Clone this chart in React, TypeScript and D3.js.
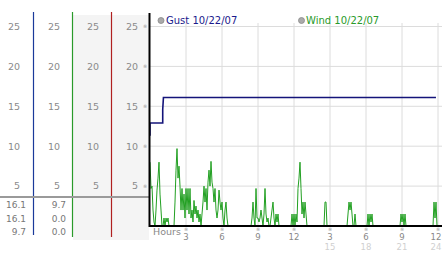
import React from "react";
import * as d3 from "d3";

const yTicks = [5, 10, 15, 20, 25];
const hourTicks = [3, 6, 9, 12, 15, 18, 21, 24];
const hourLabelsTop = ["3", "6", "9", "12", "3", "6", "9", "12"];
const hourLabelsBottom = ["", "", "", "", "15", "18", "21", "24"];

const gustHours = [0, 0, 1.06, 1.06, 1.12, 23.83];
const gustValues = [11.3, 12.9, 12.9, 14.6, 16.1, 16.1];

// wind speed, one reading every 5 minutes (12 per hour)
const windValues = [
  8, 4.7, 5, 2, 0.5, 0, 2, 4.5, 6, 8, 4, 2,
  0, 0, 1, 0, 1, 0.5, 1, 0, 0, 0, 0, 0,
  0, 3, 7, 9.7, 6, 7.5, 5, 2, 4.7, 2, 4, 1,
  4.7, 2, 4.7, 1.5, 4.7, 1, 2, 0.5, 3.2, 1.5, 2.5, 1,
  2, 0.5, 1.5, 0, 1.5, 3, 5, 3, 4.7, 2, 5.5, 7,
  5, 8.1, 5.5, 4.7, 3, 4.7, 2, 1, 2, 4.5, 3, 2,
  3, 1, 0, 2, 3, 1, 0, 0, 0, 0, 0, 0,
  0, 0, 0, 0, 0, 0, 0, 0, 0, 0, 0, 0,
  0, 0, 0, 0, 0, 0, 1, 3, 1, 0, 4.7, 1,
  1, 0.5, 1, 2, 1, 0, 1.5, 4.7, 1.5, 0.5, 1, 0,
  0, 1, 2, 3, 1, 0, 1.5, 0.5, 1.5, 0, 0, 0,
  0, 0, 0, 0, 0, 0, 0, 0, 0, 0, 1.5, 0,
  1.5, 0, 1.5, 0.5, 4.7, 6, 8, 4.7, 1.5, 3, 1, 3,
  1.5, 0, 0, 0, 0, 0, 0, 0, 0, 0, 0, 0,
  0, 0, 0, 0, 0, 0, 0, 3, 3, 0, 0, 0,
  0, 0, 0, 0, 0, 0, 0, 0, 0, 0, 0, 0,
  0, 0, 0, 0, 0, 0, 1.5, 3, 2, 3, 1.5, 0,
  0, 1.5, 0, 0, 0, 0, 0, 0, 0, 0, 0, 0,
  0, 0, 1.5, 0, 1.5, 0.5, 1.5, 0, 0, 0, 0, 0,
  0, 0, 0, 0, 0, 0, 0, 0, 0, 0, 0, 0,
  0, 0, 0, 0, 0, 0, 0, 0, 0, 0, 0, 1.5,
  0.5, 1.5, 0, 1.5, 0, 0, 0, 0, 0, 0, 0, 0,
  0, 0, 0, 0, 0, 0, 0, 0, 0, 0, 0, 0,
  0, 0, 0, 0, 0, 0, 0, 0, 3, 1, 3, 0,
  0,
];

const gustStats = ["16.1", "16.1", "9.7"];
const windStats = ["9.7", "0.0", "0.0"];

const FONT = "DejaVu Sans, Verdana, sans-serif";

export default function App() {
  const x = d3.scaleLinear().domain([0, 24]).range([150, 438]);
  const y = d3.scaleLinear().domain([0, 25]).range([226, 26.5]);

  const gustLine = d3
    .line<number>()
    .x((_, i) => x(gustHours[i]))
    .y((d) => y(d))(gustValues) as string;

  const windLine = d3
    .line<number>()
    .x((_, i) => x(i / 12))
    .y((d) => y(d))(windValues) as string;

  const panelRight = [20, 60, 99, 138];
  const panelLines = [
    { x: 33.5, color: "#1a3a9a", y2: 235 },
    { x: 72.5, color: "#2a9a2a", y2: 237 },
    { x: 111.5, color: "#b02020", y2: 237 },
  ];
  const statRows = [205, 219, 232];
  const labelX = (h: number) => Math.min(x(h), 436);

  return (
    <svg
      width={442}
      height={253}
      style={{ position: "absolute", left: 0, top: 0, background: "#fff" }}
      fontFamily={FONT}
    >
      {/* shaded panels */}
      <rect x={73} y={15} width={76} height={225} fill="#f4f4f4" />

      {/* grid */}
      {yTicks.map((t) => (
        <line key={"gy" + t} x1={150} x2={442} y1={y(t)} y2={y(t)} stroke="#dcdcdc" strokeWidth={1} />
      ))}
      {hourTicks.map((h) => (
        <line key={"gx" + h} x1={x(h)} x2={x(h)} y1={23} y2={226} stroke="#dcdcdc" strokeWidth={1} />
      ))}

      {/* left axis panels */}
      {panelLines.map((p, i) => (
        <line key={"pl" + i} x1={p.x} x2={p.x} y1={12} y2={p.y2} stroke={p.color} strokeWidth={1.2} />
      ))}
      {panelRight.map((r, pi) =>
        yTicks.map((t) => (
          <text
            key={"pt" + pi + t}
            x={r}
            y={y(t)}
            dy="0.35em"
            textAnchor="end"
            fontSize={9.5}
            fill="#8a8a8a"
          >
            {t}
          </text>
        ))
      )}
      {yTicks.map((t) => (
        <text key={"mk" + t} x={145} y={y(t)} dy="0.35em" textAnchor="middle" fontSize={5} fill="#999">
          ※
        </text>
      ))}

      {/* separator */}
      <line x1={0} x2={149} y1={197} y2={197} stroke="#9a9a9a" strokeWidth={2} />

      {/* stats */}
      {statRows.map((ry, i) => (
        <text key={"gs" + i} x={26} y={ry} dy="0.35em" textAnchor="end" fontSize={9} fill="#777">
          {gustStats[i]}
        </text>
      ))}
      {statRows.map((ry, i) => (
        <text key={"ws" + i} x={66} y={ry} dy="0.35em" textAnchor="end" fontSize={9} fill="#777">
          {windStats[i]}
        </text>
      ))}

      {/* series */}
      <path d={windLine} fill="none" stroke="#22a022" strokeWidth={1} />
      <path d={gustLine} fill="none" stroke="#14147a" strokeWidth={1.6} />

      {/* plot frame */}
      <line x1={149.5} x2={149.5} y1={13} y2={227} stroke="#000" strokeWidth={2} />
      <line x1={149} x2={442} y1={226} y2={226} stroke="#000" strokeWidth={2} />

      {/* legend */}
      <circle cx={161} cy={20.5} r={3} fill="#aaa" stroke="#888" strokeWidth={0.8} />
      <text x={166} y={20.5} dy="0.35em" fontSize={10} fill="#1a1a8c">
        Gust 10/22/07
      </text>
      <circle cx={301.5} cy={20.5} r={3} fill="#aaa" stroke="#888" strokeWidth={0.8} />
      <text x={306} y={20.5} dy="0.35em" fontSize={10} fill="#2a9a2a">
        Wind 10/22/07
      </text>

      {/* bottom axis */}
      <text x={153} y={232} dy="0.35em" fontSize={9.5} fill="#888">
        Hours
      </text>
      {hourTicks.map((h, i) => (
        <g key={"ht" + h}>
          <text x={x(h)} y={229} dy="0.35em" textAnchor="middle" fontSize={5} fill="#999">
            ※
          </text>
          <text x={labelX(h)} y={237.5} dy="0.35em" textAnchor="middle" fontSize={8.5} fill="#888">
            {hourLabelsTop[i]}
          </text>
          <text x={labelX(h)} y={247} dy="0.35em" textAnchor="middle" fontSize={8.5} fill="#d0d0d0">
            {hourLabelsBottom[i]}
          </text>
        </g>
      ))}
    </svg>
  );
}
